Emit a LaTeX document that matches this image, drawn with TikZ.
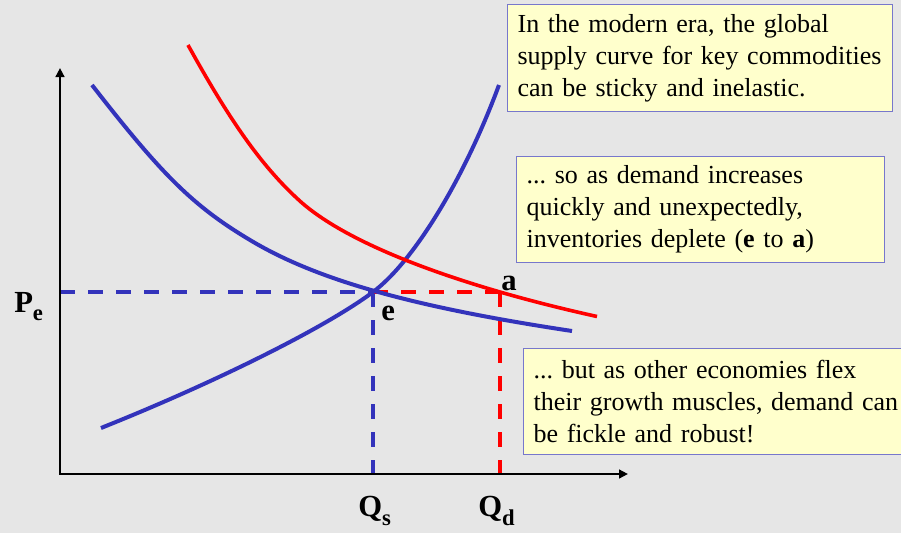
\documentclass[tikz,border=0pt]{standalone}
\usepackage{fontspec}
\setmainfont{Liberation Serif}
\usetikzlibrary{arrows.meta}
\definecolor{bg}{HTML}{E6E6E6}
\definecolor{cblue}{HTML}{3333BB}
\definecolor{cred}{HTML}{FF0000}
\definecolor{boxfill}{HTML}{FFFFCC}
\definecolor{boxline}{HTML}{7777CC}
\begin{document}
\frenchspacing
\begin{tikzpicture}[x=0.75pt,y=-0.75pt,
  note/.style={draw=boxline, line width=0.9pt, fill=boxfill, anchor=north west,
    align=left, inner xsep=7.5pt, inner ysep=0pt,
    font=\fontsize{19.5}{24}\selectfont},
  curveb/.style={draw=cblue, line width=3pt},
  curver/.style={draw=cred, line width=2.7pt},
  guideb/.style={draw=cblue, line width=3pt, dash pattern=on 11.25pt off 9.75pt},
  guider/.style={draw=cred, line width=3pt, dash pattern=on 11.25pt off 9.75pt},
  lbl/.style={font=\fontsize{23}{26}\selectfont\bfseries, inner sep=0pt, anchor=base west},
  axis/.style={line width=2.2pt, {Triangle[length=6.75pt,width=6.5pt]}-{Triangle[length=6.75pt,width=6.5pt]}}
]
\fill[bg] (0,0) rectangle (901,533);
\useasboundingbox (0,0) rectangle (901,533);

% coordinates
\coordinate (ytop) at (60,68);
\coordinate (O) at (60,474);
\coordinate (xend) at (628,474);
\coordinate (pe) at (60,292);
\coordinate (e) at (373,292);
\coordinate (a) at (500,292);
\coordinate (qs) at (373,474);
\coordinate (qd) at (500,474);

% guides
\draw[guideb] (pe) -- (e);
\draw[guideb] (e) -- (qs);
\draw[guider] (e) -- (a);
\draw[guider] (a) -- (qd);

% axes
\draw[axis] (ytop) -- (O) -- (xend);

% original demand (blue)
\draw[curveb] (92,85) .. controls (162,175) and (193,206) .. (250,240)
  .. controls (316.5,280) and (413,307) .. (572,331);
% supply (blue)
\draw[curveb] (101,428) .. controls (217.6,381.4) and (326.4,326.9) .. (373,292)
  .. controls (414,261.3) and (464.4,178.5) .. (499,85);
% new demand (red)
\draw[curver] (188,45) .. controls (230,121) and (262,167) .. (301,202)
  .. controls (352,247) and (465.6,287.5) .. (597,316.5);

% labels
\node[lbl] (lPe) at (14,312) {P\raisebox{-6pt}{\fontsize{17}{17}\selectfont e}};
\node[lbl] (le) at (381,320) {e};
\node[lbl] (la) at (501,290) {a};
\node[lbl] (lQs) at (358,516) {Q\raisebox{-7pt}{\fontsize{17}{17}\selectfont s}};
\node[lbl] (lQd) at (478,516) {Q\raisebox{-7pt}{\fontsize{17}{17}\selectfont d}};

% notes
\node[note, text width=273.75pt, minimum height=80.25pt] (n1) at (507,4)
  {In the modern era, the global\\supply curve for key commodities\\can be sticky and inelastic.};
\node[note, text width=261pt, minimum height=79.5pt] (n2) at (516,156)
  {... so as demand increases\\quickly and unexpectedly,\\inventories deplete (\textbf{e} to \textbf{a})};
\node[note, text width=280pt, minimum height=79.5pt] (n3) at (523,348)
  {... but as other economies flex\\their growth muscles, demand can\\be fickle and robust!};
\end{tikzpicture}
\end{document}
